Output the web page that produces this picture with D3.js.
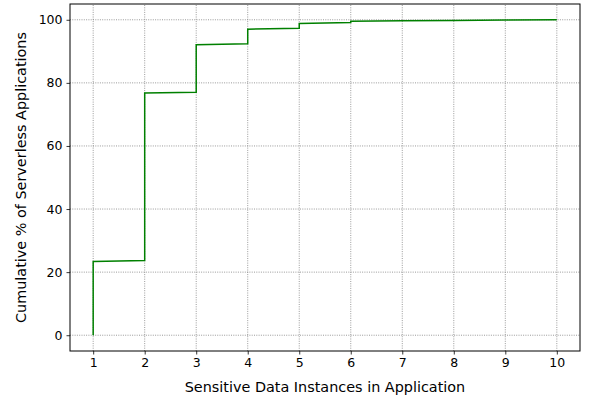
<!DOCTYPE html>
<html>
<head>
<meta charset="utf-8">
<script src="https://cdn.jsdelivr.net/npm/d3@7"></script>
<style>
  body { margin: 0; background: #fff; }
  text { font-family: "DejaVu Sans", sans-serif; fill: #000; }
</style>
</head>
<body>
<div id="chart"></div>
<script>
// number of sensitive data instances per app
const instances = [1, 2, 3, 4, 5, 6, 7, 8, 9, 10];
// cumulative % at first and last sample of each instance count
const pctFirst = [0, 23.7, 77.0, 92.4, 97.3, 99.1, 99.7, 99.8, 99.9, 100];
const pctLast = [23.4, 76.8, 92.1, 97.0, 98.8, 99.5, 99.7, 99.8, 99.9, 100];
const xTicks = [1, 2, 3, 4, 5, 6, 7, 8, 9, 10];
const yTicks = [0, 20, 40, 60, 80, 100];

const width = 592, height = 398;
const margin = { top: 4, right: 12, bottom: 47, left: 70 };

const svg = d3.select("#chart").append("svg")
  .attr("width", width)
  .attr("height", height);

const x = d3.scaleLinear().domain([0.55, 10.45]).range([margin.left, width - margin.right]);
const y = d3.scaleLinear().domain([-5, 105]).range([height - margin.bottom, margin.top]);

//grid
const grid = svg.append("g");
grid.selectAll(".gx").data(xTicks).enter().append("line")
  .attr("x1", d => x(d)).attr("x2", d => x(d))
  .attr("y1", y.range()[0]).attr("y2", y.range()[1])
  .style("stroke", "#808080").style("stroke-width", 0.8)
  .style("stroke-dasharray", "1,1.3");
grid.selectAll(".gy").data(yTicks).enter().append("line")
  .attr("y1", d => y(d)).attr("y2", d => y(d))
  .attr("x1", x.range()[0]).attr("x2", x.range()[1])
  .style("stroke", "#808080").style("stroke-width", 0.8)
  .style("stroke-dasharray", "1,1.3");

//the curve: vertical jump at each x, slight slope between
const pts = [];
instances.forEach((v, i) => {
  pts.push([v, pctFirst[i]]);
  pts.push([v, pctLast[i]]);
});
const line = d3.line().x(d => x(d[0])).y(d => y(d[1]));
svg.append("path")
  .attr("d", line(pts))
  .style("fill", "none")
  .style("stroke", "#008000")
  .style("stroke-width", 1.5);

//axes
const xAxis = svg.append("g")
  .attr("transform", `translate(0,${height - margin.bottom})`)
  .call(d3.axisBottom(x).tickValues(xTicks).tickSize(3.5).tickPadding(4).tickFormat(d3.format("d")));
const yAxis = svg.append("g")
  .attr("transform", `translate(${margin.left},0)`)
  .call(d3.axisLeft(y).tickValues(yTicks).tickSize(3.5).tickPadding(4).tickFormat(d3.format("d")));
[xAxis, yAxis].forEach(a => {
  a.selectAll("text").style("font-size", "12.5px");
  a.selectAll("line").style("stroke", "#000").style("stroke-width", 0.8);
  a.select(".domain").remove();
});

//frame
svg.append("rect")
  .attr("x", margin.left).attr("y", margin.top)
  .attr("width", width - margin.left - margin.right)
  .attr("height", height - margin.top - margin.bottom)
  .style("fill", "none").style("stroke", "#000").style("stroke-width", 1);

svg.append("text")
  .attr("x", (margin.left + width - margin.right) / 2)
  .attr("y", 392)
  .attr("text-anchor", "middle")
  .style("font-size", "14.4px")
  .text("Sensitive Data Instances in Application");

svg.append("text")
  .attr("transform", `translate(26,${(margin.top + height - margin.bottom) / 2}) rotate(-90)`)
  .attr("text-anchor", "middle")
  .style("font-size", "14.4px")
  .text("Cumulative % of Serverless Applications");
</script>
</body>
</html>
